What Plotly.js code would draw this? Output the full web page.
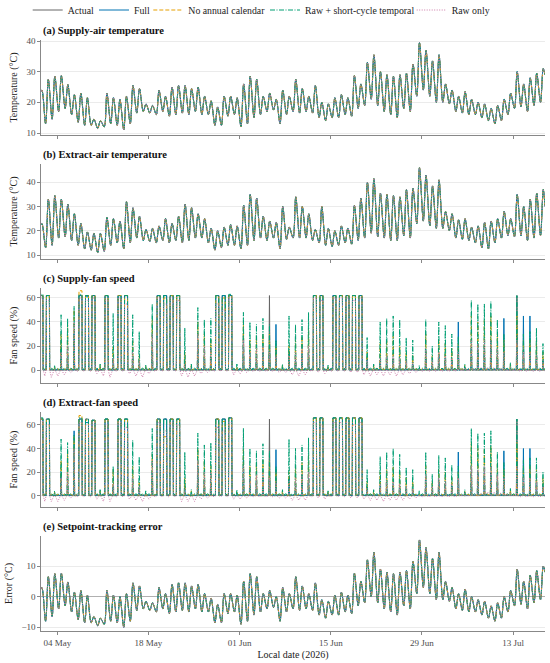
<!DOCTYPE html>
<html><head><meta charset="utf-8">
<script src="https://cdn.plot.ly/plotly-3.0.1.min.js"></script>
<style>html,body{margin:0;padding:0;background:#fff}#chart{width:550px;height:663px}</style>
</head><body><div id="chart"></div>
<script>
// ---------- categories / ticks ----------
const firstDay = '2026-05-01';
const nDays = 78; // 01 May .. 17 Jul 2026
const xRange = ['2026-05-01 12:00', '2026-07-17 21:30'];
const tickDates = ['2026-05-04','2026-05-18','2026-06-01','2026-06-15','2026-06-29','2026-07-13'];
const tickLabels = ['04 May','18 May','01 Jun','15 Jun','29 Jun','13 Jul'];
const seriesNames = ['Actual','Full','No annual calendar','Raw + short-cycle temporal','Raw only'];
const panelTitles = ['(a) Supply-air temperature','(b) Extract-air temperature','(c) Supply-fan speed','(d) Extract-fan speed','(e) Setpoint-tracking error'];
const yTitles = ['Temperature (°C)','Temperature (°C)','Fan speed (%)','Fan speed (%)','Error (°C)'];
const yTicks = [[10,20,30,40],[10,20,30,40],[0,20,40,60],[0,20,40,60],[-10,0,10]];

// days when the fans run a long daytime plateau
const plateauDays = ['2026-05-01','2026-05-02','2026-05-07','2026-05-08','2026-05-09','2026-05-11','2026-05-13','2026-05-14',
  '2026-05-19','2026-05-20','2026-05-21','2026-05-22','2026-05-28','2026-05-29','2026-05-30',
  '2026-06-12','2026-06-13','2026-06-15','2026-06-16','2026-06-17','2026-06-18','2026-06-19'];

// ---------- (a) supply-air temperature: daily low (early morning) / high (afternoon) ----------
const supplyMin = [22,13,14.5,17,18,16,13.5,12.5,12.5,11.5, 12,13,12.5,11,13,16.5,17,16.5,16,17,
  15.5,16,16.5,16,17,16,16,12.5,12.5,15.5, 16,12,13,15,16,17,17.5,13,16,17,
  16.5,17,16.5,15,14,15,15,16,15.5,18, 19,21,19,17,16,15,18,17,22,24,
  22,20,20,19.5,17,16.5,16,16,15,14, 13,14,16,18,18.5,17,19,20];
const supplyMax = [24,27.5,28.5,28.7,25.8,22.5,23,21.5,14.5,14, 23,21.5,21,22,25.5,24.5,19.5,19,24,22,
  25,25.5,25.5,24.5,25,22,20.5,18.5,22,22, 21.5,26,28.5,27.5,22,23,21,24,22,27.5,
  24.5,22,25.5,20,19.5,21.5,22.5,21.5,28.7,26, 33,35.5,30,29,28.5,29,29.5,32.5,39.5,37,
  33.5,35.5,26,24,22,23.5,21,20,19.5,18, 19,21,23,30,26,28,29.5,31];
const supplyEnd = 29;

// ---------- (b) extract-air temperature ----------
const extractMin = [21,13,14,17,17.5,16,14,12.5,12,11, 11.5,14,15,12.5,15,17,16,15.5,15,16,
  15,16,15,16,17,17,15,12,13,14, 14,12.5,14,16,17,16,17,12.5,16.5,17,
  17,17,16,15,14,13.5,14,15,14.5,16, 17,19,17.5,17,16,16,18,17,23,24,
  22,21,21,20,17,16.5,16,15,13,12.5, 15,17,18,17.5,18,16,17,18];
const extractMax = [23,33,34.5,33,31,27,23,19.5,19,19, 25.5,25,24,32,29.5,26,20.5,21,22,25,
  23,26,31,29.5,27,25,21,20,21.5,22.5, 22,30.5,35,33.5,26,24,23.5,30,21.5,34,
  30,27,20.5,30,21,20,22,21,30.5,33.5, 40,41.5,35.5,35,34.5,34,37,37.5,46,43,
  38.5,41,28,27,24.5,25,21.5,22,23.5,24, 25,28,25,35,30,33,35.5,37];
const extractEnd = 30;

// ---------- (c) supply-fan speed: daily peak per series, night level of "Raw only" ----------
const supFanActual = [62,62,0.5,1,1,1,62,62,62,0.5, 62,1,62,62,1,1,0.5,1,62,62,
  62,62,1,0.5,1,1,1,62,62,62, 0.5,1,1,1,1,62,1,0.5,1,1,
  1,1,62,62,0.5,62,62,62,62,62, 1,0.5,1,1,1,1,1,1,0.5,1,
  1,1,1,1,1,0.5,1,1,1,1, 1,1,0.5,62,1,1,1,1];
const supFanFull = [62,62,1,20,15,30,62,61,62,2, 62,8,62,62,10,5,2,20,62,62,
  62,62,8,2,23,12,10,62,62,62, 2,30,10,12,15,20,38,2,15,10,
  12,15,62,62,2,62,62,62,62,62, 10,2,8,10,10,8,5,5,1,15,
  5,12,10,8,40,2,20,18,20,20, 15,43,2,30,45,45,15,8];
const supFanNoCal = [62,62,3,30,38,50,66,62,62,4, 62,20,62,62,25,12,3,42,62,60,
  62,62,15,4,40,30,25,62,60,62, 3,40,25,28,30,30,20,4,20,25,
  28,35,62,62,3,62,62,62,62,62, 15,4,22,25,28,20,15,12,1,30,
  12,25,22,18,22,4,45,40,42,45, 30,25,5,45,25,25,25,15];
const supFanShort = [63,62,4,46,43,53,63,62,62,5, 62,47,62,62,46,32,4,55,62,62,
  62,62,35,5,52,42,43,62,62,63, 5,48,40,38,43,38,25,5,45,38,
  42,48,62,62,4,62,62,62,62,62, 27,5,40,43,45,42,27,25,4,42,
  20,40,37,30,28,5,58,55,55,57, 42,30,6,62,30,32,35,22];
const supFanRaw = [60,58,1,15,20,40,60,58,60,1, 58,10,60,55,15,8,1,30,60,55,
  60,58,5,1,30,20,18,55,50,60, 1,25,15,18,20,15,12,1,12,15,
  18,20,60,58,1,60,60,60,58,60, 8,1,10,12,12,10,8,6,1,18,
  8,15,12,10,15,2,25,22,25,25, 18,15,2,25,15,15,12,8];
const supFanRawNight = [0,-5,-6,-5,-4,-2,-1,-1,-1,-3, -5,-6,-1,-1,-3,-5,-6,-3,-1,-1,
  -1,-1,-5,-6,-5,-3,-2,-1,-1,-1, -4,-3,-2,-1,-1,-1,-1,-2,-2,-4,
  -5,-4,-1,-2,-3,-1,-1,-1,-2,-2, -4,-5,-4,-5,-4,-5,-4,-3,-2,-1,
  -1,-1,-1,-1,-1,0,0,1,2,2, 2,1,0,0,-1,-1,-1,-1];

// ---------- (d) extract-fan speed ----------
const extFanActual = [65,65,0.5,1,1,1,65,65,64,0.5, 65,1,65,65,1,1,0.5,1,65,65,
  65,65,1,0.5,1,1,1,65,65,66, 0.5,1,1,1,1,65,1,0.5,1,1,
  1,1,66,66,0.5,66,66,66,66,66, 1,0.5,1,1,1,1,1,1,0.5,1,
  1,1,1,1,1,0.5,1,1,1,1, 1,1,0.5,65,1,1,1,1];
const extFanFull = [65,65,1,20,15,55,65,62,64,2, 65,8,65,65,10,5,2,20,65,65,
  65,65,8,2,25,12,10,65,65,66, 2,32,10,12,15,20,39,2,15,10,
  12,15,66,66,2,66,66,66,66,66, 8,2,8,10,10,8,5,5,1,15,
  5,12,10,8,37,2,20,18,20,20, 15,38,2,30,40,40,15,8];
const extFanNoCal = [65,65,3,30,38,50,68,64,64,4, 65,22,65,65,25,12,3,35,65,50,
  65,65,15,4,40,30,25,65,63,66, 3,40,25,28,30,30,20,4,20,25,
  28,35,66,66,3,66,66,66,66,66, 12,4,20,22,25,20,15,12,1,25,
  12,22,20,15,20,4,45,40,40,42, 28,22,5,45,25,25,22,15];
const extFanShort = [66,65,4,48,45,52,66,65,64,5, 65,25,65,65,47,33,4,57,65,65,
  65,65,37,5,53,43,45,65,65,66, 5,57,40,38,44,38,25,5,48,40,
  43,49,66,66,4,66,66,66,66,66, 22,5,33,37,40,35,24,22,4,37,
  18,34,32,26,25,5,57,53,53,55, 37,28,6,65,30,32,32,20];
const extFanRaw = [63,60,1,15,20,40,62,60,62,1, 60,10,62,58,15,8,1,30,62,55,
  62,60,5,1,30,20,20,58,55,62, 1,25,15,18,20,15,12,1,12,15,
  18,20,62,60,1,62,62,62,60,62, 6,1,10,12,12,10,8,6,1,18,
  8,15,12,10,15,2,25,22,25,25, 18,15,2,25,15,15,12,8];
const extFanRawNight = [0,-5,-5,-5,-4,-2,-1,-1,-1,-3, -5,-5,-1,-1,-3,-4,-5,-3,-1,-1,
  -1,-1,-5,-5,-5,-3,-2,-1,-1,-1, -3,-3,-2,-1,-1,-1,-1,-2,-2,-4,
  -4,-4,-1,-2,-3,-1,-1,-1,-2,-2, -3,-4,-4,-5,-4,-4,-4,-3,-2,-1,
  -1,-1,-1,-1,-1,0,0,1,2,3, 3,2,1,0,-1,-1,-1,-1];
const fanNightLevel = [0, 0.5, 1, 1.5]; // Actual, Full, No annual calendar, Raw + short-cycle temporal

// ---------- (e) setpoint-tracking error ----------
const errorMin = [1,-8,-6.5,-4,-3,-5,-7.5,-8.5,-8.5,-9.5, -9,-8,-8.5,-10,-8,-4.5,-4,-4.5,-5,-4,
  -5.5,-5,-4.5,-5,-4,-5,-5,-8.5,-8.5,-5.5, -5,-9,-8,-6,-5,-4,-3.5,-8,-5,-4,
  -4.5,-4,-4.5,-6,-7,-6,-6,-5,-5.5,-3, -2,0,-2,-4,-5,-6,-3,-4,1,3,
  1,-1,-1,-1.5,-4,-4.5,-5,-5,-6,-7, -8,-7,-5,-3,-2.5,-4,-2,-1];
const errorMax = [3,6.5,7.5,7.7,4.8,1.5,2,0.5,-6.5,-7, 2,0.5,0,1,4.5,3.5,-1.5,-2,3,1,
  4,4.5,4.5,3.5,4,1,-0.5,-2.5,1,1, 0.5,5,7.5,6.5,1,2,0,3,1,6.5,
  3.5,1,4.5,-1,-1.5,0.5,1.5,0.5,7.7,5, 12,14.5,9,8,7.5,8,8.5,11.5,18.5,16,
  12.5,14.5,5,3,1,2.5,0,-1,-1.5,-3, -2,0,2,9,5,7,8.5,10];
const errorEnd = 8;

// ---------- build ----------
const days = [];
for (let i = 0; i < nDays; i++) {
  const t = new Date(Date.parse(firstDay + 'T00:00:00Z') + i * 86400000);
  days.push(t.toISOString().slice(0, 10));
}
const lastDay = days[days.length - 1];

function tempXY(mins, maxs, endVal) {
  const x = [], y = [];
  days.forEach((d, i) => { x.push(d + ' 05:00', d + ' 15:00'); y.push(mins[i], maxs[i]); });
  x.push(lastDay + ' 21:30'); y.push(endVal);
  return {x, y, smooth: true};
}
function fanXY(peaks, night) {
  const x = [], y = [];
  days.forEach((d, i) => {
    const nb = Array.isArray(night) ? night[i] : night;
    x.push(d + ' 02:00'); y.push(nb);
    if (plateauDays.includes(d)) {
      x.push(d + ' 07:00', d + ' 08:00', d + ' 19:00', d + ' 20:00'); y.push(0, peaks[i], peaks[i], 0);
    } else {
      x.push(d + ' 12:00', d + ' 14:00', d + ' 16:00'); y.push(0, peaks[i], 0);
    }
  });
  x.push(lastDay + ' 21:30'); y.push(Array.isArray(night) ? night[night.length - 1] : night);
  return {x, y, smooth: false};
}

const styles = [
  {color: '#666666', dash: 'solid', width: 1.0},
  {color: '#0072B2', dash: 'solid', width: 1.0},
  {color: '#E69F00', dash: '4px,2px', width: 1.0},
  {color: '#009E73', dash: '5px,1.5px,1px,1.5px', width: 1.0},
  {color: '#CC79A7', dash: '1px,1.5px', width: 1.0}
];

const panelData = [
  seriesNames.map(() => tempXY(supplyMin, supplyMax, supplyEnd)),
  seriesNames.map(() => tempXY(extractMin, extractMax, extractEnd)),
  [fanXY(supFanActual, fanNightLevel[0]), fanXY(supFanFull, fanNightLevel[1]), fanXY(supFanNoCal, fanNightLevel[2]),
   fanXY(supFanShort, fanNightLevel[3]), fanXY(supFanRaw, supFanRawNight)],
  [fanXY(extFanActual, fanNightLevel[0]), fanXY(extFanFull, fanNightLevel[1]), fanXY(extFanNoCal, fanNightLevel[2]),
   fanXY(extFanShort, fanNightLevel[3]), fanXY(extFanRaw, extFanRawNight)],
  seriesNames.map(() => tempXY(errorMin, errorMax, errorEnd))
];

const W = 550, H = 663, ML = 41, MR = 5, MT = 0, MB = 20;
const PH = H - MT - MB;
const panelTop = [40, 164, 288, 412, 536];
const panelHeight = 95;
const yRanges = [[9.35, 40.33], [8.35, 47.55], [-10.8, 68.3], [-9.7, 71], [-11.2, 19.8]];
const fontFam = 'Liberation Serif, Times New Roman, serif';
const legendIds = ['legend', 'legend2', 'legend3', 'legend4', 'legend5'];
const legendLeftPx = [27.7, 94, 148.3, 265, 411.7];
const legendMidPx = 10;

const traces = [];
panelData.forEach((series, p) => {
  series.forEach((s, k) => {
    traces.push({
      type: 'scatter', mode: 'lines', x: s.x, y: s.y,
      name: seriesNames[k], legendgroup: seriesNames[k], showlegend: p === 0, legend: legendIds[k],
      xaxis: p === 0 ? 'x' : 'x' + (p + 1), yaxis: p === 0 ? 'y' : 'y' + (p + 1),
      line: {color: styles[k].color, width: styles[k].width, dash: styles[k].dash,
             shape: s.smooth ? 'spline' : 'linear', smoothing: 0.9},
      hoverinfo: 'skip'
    });
  });
});

const layout = {
  width: W, height: H, margin: {l: ML, r: MR, t: MT, b: MB, autoexpand: false},
  paper_bgcolor: '#ffffff', plot_bgcolor: '#ffffff',
  font: {family: fontFam, size: 10, color: '#222'},
  showlegend: true,
  annotations: [],
  hovermode: false
};
legendIds.forEach((id, k) => {
  layout[id] = {orientation: 'h', xref: 'container', yref: 'container',
    x: legendLeftPx[k] / W, xanchor: 'left', y: 1 - legendMidPx / H, yanchor: 'middle',
    font: {family: fontFam, size: 9.8, color: '#222'}, itemwidth: 30, bgcolor: 'rgba(0,0,0,0)', borderwidth: 0};
});
for (let p = 0; p < 5; p++) {
  const sfx = p === 0 ? '' : String(p + 1);
  const top = panelTop[p], bot = top + panelHeight;
  layout['yaxis' + sfx] = {
    domain: [(PH - bot) / PH, (PH - top) / PH], anchor: 'x' + sfx, range: yRanges[p],
    tickvals: yTicks[p], ticks: 'outside', ticklen: 3, tickwidth: 0.7, tickcolor: '#555',
    tickfont: {family: fontFam, size: 9, color: '#4d4d4d'},
    showline: true, linecolor: '#555', linewidth: 0.7,
    showgrid: true, gridcolor: '#e6e6e6', gridwidth: 0.8,
    zeroline: p === 4, zerolinecolor: '#b0b0b0', zerolinewidth: 1,
    title: {text: yTitles[p], font: {family: fontFam, size: 10, color: '#222'}, standoff: 6},
    fixedrange: true
  };
  layout['xaxis' + sfx] = {
    type: 'date', range: xRange, anchor: 'y' + sfx, domain: [0, 1],
    tickvals: tickDates, ticktext: tickLabels, showticklabels: p === 4,
    ticks: 'outside', ticklen: 3, tickwidth: 0.7, tickcolor: '#555',
    tickfont: {family: fontFam, size: 9, color: '#4d4d4d'},
    showline: true, linecolor: '#555', linewidth: 0.7, showgrid: false, zeroline: false,
    title: p === 4 ? {text: 'Local date (2026)', font: {family: fontFam, size: 10, color: '#222'}, standoff: 4} : {text: ''},
    fixedrange: true
  };
  layout.annotations.push({
    xref: 'paper', yref: 'paper', x: 0, xanchor: 'left', y: (PH - (top - 9)) / PH, yanchor: 'middle',
    text: '<b>' + panelTitles[p] + '</b>', showarrow: false,
    font: {family: fontFam, size: 10.5, color: '#111'}
  });
}

Plotly.newPlot('chart', traces, layout, {staticPlot: true, displayModeBar: false});
</script>
</body></html>
